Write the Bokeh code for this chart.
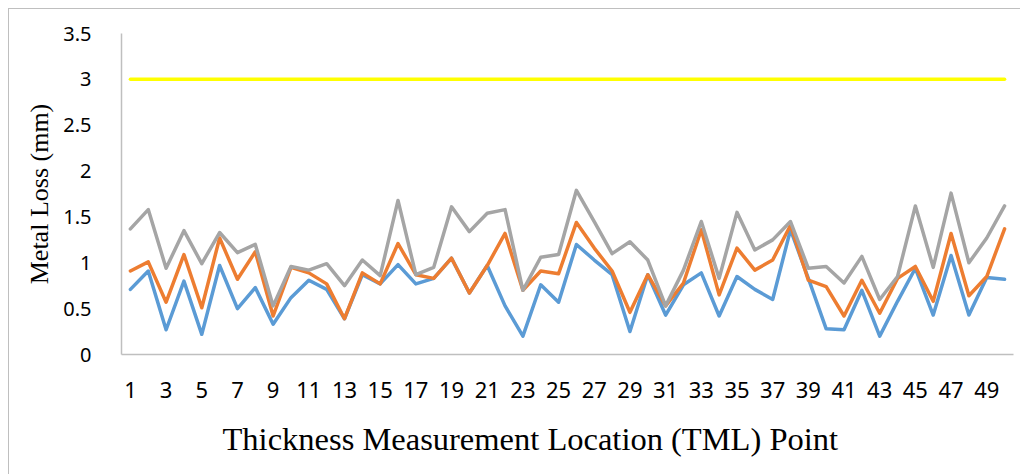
from bokeh.plotting import figure
from bokeh.models import Range1d, FixedTicker, Title
from bokeh.embed import file_html
from bokeh.resources import INLINE

# ---- data ----
tml_points = list(range(1, 51))
series_blue = [0.71, 0.91, 0.27, 0.80, 0.22, 0.97, 0.50, 0.73, 0.33, 0.62,
               0.81, 0.71, 0.39, 0.87, 0.77, 0.98, 0.77, 0.83, 1.05, 0.67,
               0.97, 0.53, 0.20, 0.76, 0.57, 1.20, 1.03, 0.87, 0.25, 0.87,
               0.43, 0.76, 0.89, 0.42, 0.85, 0.71, 0.60, 1.36, 0.83, 0.28,
               0.27, 0.70, 0.20, 0.58, 0.94, 0.43, 1.08, 0.43, 0.84, 0.82]
series_orange = [0.91, 1.01, 0.57, 1.09, 0.51, 1.27, 0.82, 1.12, 0.42, 0.95,
                 0.89, 0.77, 0.39, 0.89, 0.77, 1.21, 0.87, 0.83, 1.05, 0.67,
                 0.97, 1.32, 0.70, 0.91, 0.88, 1.44, 1.16, 0.91, 0.46, 0.87,
                 0.53, 0.78, 1.36, 0.65, 1.16, 0.92, 1.03, 1.41, 0.81, 0.74,
                 0.42, 0.81, 0.45, 0.83, 0.96, 0.58, 1.32, 0.64, 0.85, 1.37]
series_gray = [1.37, 1.58, 0.94, 1.35, 0.99, 1.33, 1.11, 1.20, 0.53, 0.96,
               0.92, 0.99, 0.75, 1.03, 0.86, 1.68, 0.87, 0.95, 1.61, 1.34,
               1.54, 1.58, 0.70, 1.06, 1.09, 1.79, 1.45, 1.10, 1.23, 1.03,
               0.53, 0.92, 1.45, 0.83, 1.55, 1.14, 1.25, 1.45, 0.94, 0.96,
               0.78, 1.07, 0.60, 0.85, 1.62, 0.95, 1.76, 1.00, 1.27, 1.62]
series_limit = [3.0] * 50
x_tick_values = [1, 3, 5, 7, 9, 11, 13, 15, 17, 19, 21, 23, 25, 27, 29, 31, 33,
                 35, 37, 39, 41, 43, 45, 47, 49]
y_tick_values = [0, 0.5, 1, 1.5, 2, 2.5, 3, 3.5]
y_tick_labels = ["0", "0.5", "1", "1.5", "2", "2.5", "3", "3.5"]
x_title = "Thickness Measurement Location (TML) Point"
y_title = "Metal Loss (mm)"

p = figure(width=1012, height=466, output_backend="svg", toolbar_location=None,
           x_range=Range1d(0.5, 50.5), y_range=Range1d(0, 3.5),
           min_border_left=112, min_border_right=8, min_border_top=24,
           min_border_bottom=120,
           styles={"border-left": "1px solid #bfbfbf", "border-top": "1px solid #bfbfbf",
                   "margin-left": "8px", "margin-top": "8px"})
p.outline_line_color = None
p.xgrid.visible = False
p.ygrid.visible = False
p.background_fill_color = "white"
p.border_fill_color = "white"

colors = ["#5B9BD5", "#ED7D31", "#A5A5A5", "#FFFF00"]
for ys, c in zip([series_blue, series_orange, series_gray, series_limit], colors):
    p.line(tml_points, ys, line_color=c, line_width=3.5, line_join="round", line_cap="round")

# axes
p.xaxis.ticker = FixedTicker(ticks=x_tick_values)
p.yaxis.ticker = FixedTicker(ticks=y_tick_values)
p.yaxis.major_label_overrides = {v: s for v, s in zip(y_tick_values, y_tick_labels)}
for ax in (p.xaxis[0], p.yaxis[0]):
    ax.axis_line_color = "#bfbfbf"
    ax.axis_line_width = 1.5
    ax.major_tick_line_color = None
    ax.minor_tick_line_color = None
    ax.major_label_text_font = "Noto Sans"
    ax.major_label_text_color = "#000000"
p.xaxis.major_label_text_font_size = "22px"
p.yaxis.major_label_text_font_size = "20px"
p.xaxis.major_label_standoff = 21
p.yaxis.major_label_standoff = 24

p.yaxis.axis_label = y_title
p.yaxis.axis_label_text_font = "Liberation Serif"
p.yaxis.axis_label_text_font_style = "normal"
p.yaxis.axis_label_text_font_size = "26px"
p.yaxis.axis_label_text_color = "#000000"
p.yaxis.axis_label_standoff = 6

p.add_layout(Title(text=x_title, align="left", offset=101, standoff=37,
                   text_font="Liberation Serif", text_font_style="normal",
                   text_font_size="32.5px", text_color="#000000"), "below")

open("out.html", "w").write(file_html(p, INLINE))
